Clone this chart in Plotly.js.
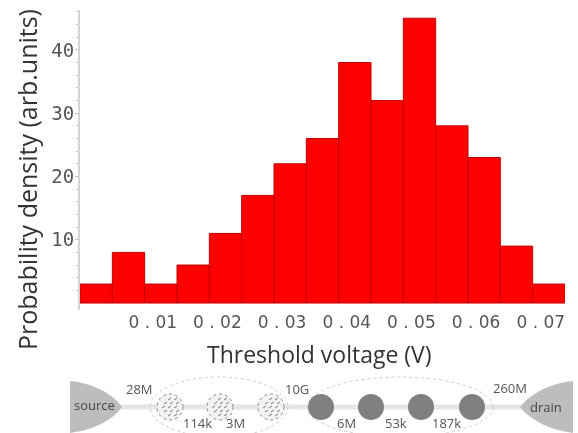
<!DOCTYPE html>
<html><head><meta charset="utf-8">
<script src="https://cdn.plot.ly/plotly-3.0.1.min.js"></script>
<style>html,body{margin:0;padding:0;background:#fff}#c{filter:blur(0.5px)}</style></head>
<body><div id="c" style="width:578px;height:433px"></div>
<script>
const binCenters=[0.00125,0.00625,0.01125,0.01625,0.02125,0.02625,0.03125,0.03625,0.04125,0.04625,0.05125,0.05625,0.06125,0.06625,0.07125];
const counts=[3,8,3,6,11,17,22,26,38,32,45,28,23,9,3];
const binWidth=0.005;
const xTicks=[0.01,0.02,0.03,0.04,0.05,0.06,0.07];
const xTickLabels=['0 . 01','0 . 02','0 . 03','0 . 04','0 . 05','0 . 06','0 . 07'];
const yTicks=[10,20,30,40];
const yMinorTicks=[2,4,6,8,12,14,16,18,22,24,26,28,32,34,36,38,42,44,46];
const hatched=[170,220,271];
const solid=[321,371,421,472];
const resistors=[['28M',139,389],['114k',197,423],['3M',235,423],['10G',297,389],['6M',346,423],['53k',396,423],['187k',446,423],['260M',510,388]];
const ends=[['source',94,405],['drain',546,407]];

const layout={width:578,height:433,margin:{l:0,r:0,t:0,b:0},paper_bgcolor:'#fff',plot_bgcolor:'rgba(0,0,0,0)',showlegend:false,
 font:{family:'Open Sans, sans-serif',color:'#333'},
 xaxis:{domain:[80/578,565/578],range:[-0.00125,0.07375],anchor:'y',showgrid:false,zeroline:false,showline:false,
  tickmode:'array',tickvals:xTicks,ticktext:xTickLabels,ticks:'',
  tickfont:{family:'DejaVu Sans, sans-serif',size:17,color:'#555'}},
 yaxis:{domain:[1-310/433,1-10/433],range:[-1.1,46.3],anchor:'x',showgrid:false,zeroline:false,showline:true,linecolor:'#d4d4d4',linewidth:2,
  tickmode:'array',tickvals:yTicks,ticktext:yTicks.map(String),ticks:'outside',ticklen:3,tickcolor:'#bbb',ticklabelstandoff:-3,
  minor:{tickmode:'array',tickvals:yMinorTicks,ticks:'outside',ticklen:2,tickcolor:'#ccc'},
  tickfont:{family:'DejaVu Sans Mono, monospace',size:19,color:'#555'}},
 xaxis2:{domain:[0,1],range:[0,578],anchor:'y2',visible:false},
 yaxis2:{domain:[0,1],range:[433,0],anchor:'x2',visible:false},
 shapes:[],annotations:[]};

function txt(t,x,y,size,color){layout.annotations.push({xref:'x2',yref:'y2',x,y,text:t,showarrow:false,font:{size,color:color||'#444',family:'Open Sans, sans-serif'}});}
layout.annotations.push({xref:'x2',yref:'y2',x:319,y:354,text:'Threshold voltage (V)',showarrow:false,font:{size:23,color:'#333'}});
layout.annotations.push({xref:'x2',yref:'y2',x:27,y:180,text:'Probability density (arb.units)',textangle:-90,showarrow:false,font:{size:25,color:'#333'}});

const s=layout.shapes;
const sh=o=>s.push(Object.assign({xref:'x2',yref:'y2',layer:'above'},o));
sh({type:'line',x0:115,x1:525,y0:407,y1:407,line:{color:'#e6e6e6',width:5}});
sh({type:'circle',x0:150,x1:288,y0:377,y1:437,line:{color:'#ccc',width:1,dash:'dot'}});
sh({type:'circle',x0:307,x1:493,y0:377,y1:437,line:{color:'#ccc',width:1,dash:'dot'}});
sh({type:'path',path:'M70,381 C92,383 112,393 122,407 C112,421 92,430 70,433 Z',fillcolor:'#bdbdbd',line:{width:0}});
sh({type:'path',path:'M573,381 C551,383 531,393 520,407 C531,421 551,430 573,433 Z',fillcolor:'#bdbdbd',line:{width:0}});
hatched.forEach(c=>{
 sh({type:'circle',x0:c-13,x1:c+13,y0:394,y1:420,fillcolor:'#f2f2f2',line:{color:'#888',width:1,dash:'dot'}});
 [-8,-4,0,4,8].forEach((dy,i)=>{
  [-8,-2,4].forEach(dx=>{
   const ox=dx+(i%2?2:0);
   if(ox*ox+dy*dy<100) sh({type:'line',x0:c+ox,x1:c+ox+3,y0:407+dy+1,y1:407+dy-1,line:{color:'#777',width:1}});
  });
 });
});
solid.forEach(c=>sh({type:'circle',x0:c-13,x1:c+13,y0:394,y1:420,fillcolor:'#808080',line:{width:0}}));
resistors.forEach(r=>txt(r[0],r[1],r[2],13,'#555'));
ends.forEach(r=>txt(r[0],r[1],r[2],13,'#444'));

Plotly.newPlot('c',[
 {type:'bar',x:binCenters,y:counts,width:binWidth,marker:{color:'#ff0000',line:{color:'#c40000',width:1}},xaxis:'x',yaxis:'y'},
 {type:'scatter',mode:'markers',x:[0],y:[0],xaxis:'x2',yaxis:'y2',marker:{opacity:0},hoverinfo:'skip'}
],layout,{displayModeBar:false,staticPlot:true});
</script></body></html>
